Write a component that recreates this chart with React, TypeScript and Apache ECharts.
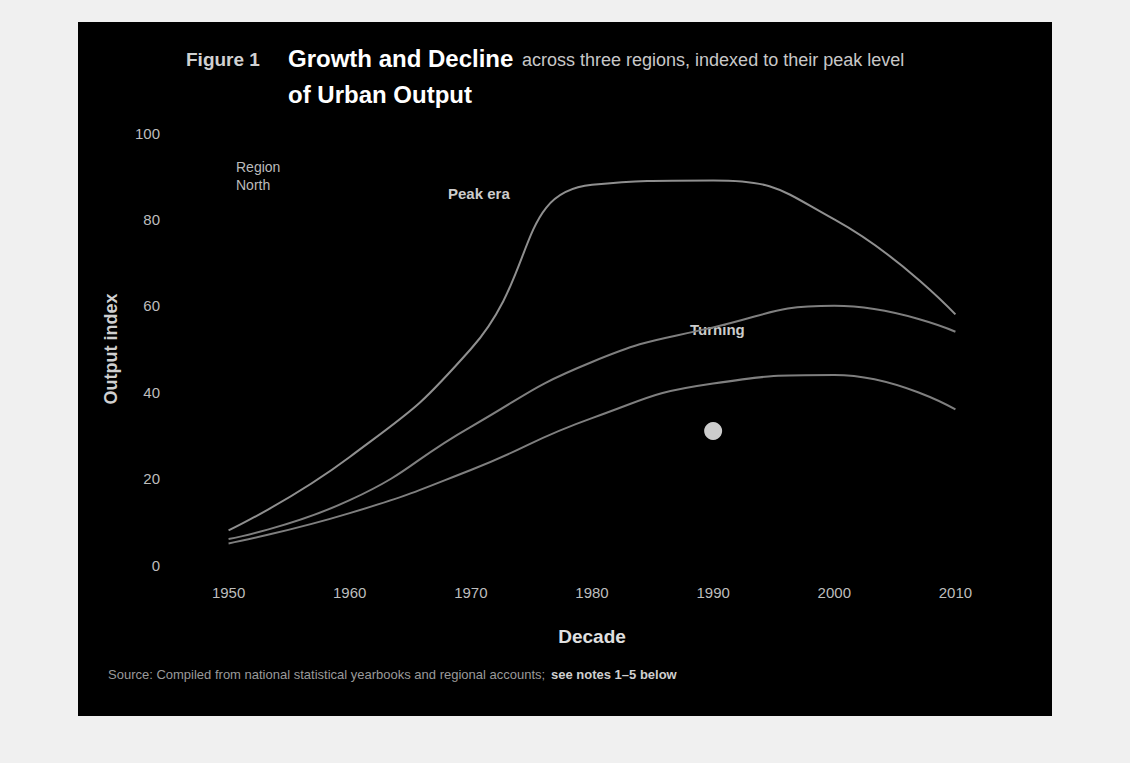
import React, { useEffect, useRef } from "react";
import * as echarts from "echarts";

const categories = ["1950", "1960", "1970", "1980", "1990", "2000", "2010"];
const seriesA = [8, 25, 50, 88, 89, 80, 58];
const seriesB = [6, 15, 32, 47, 55, 60, 54];
const seriesC = [5, 12, 22, 34, 42, 44, 36];
const highlight = [[4, 31]];
const yTicks = { min: 0, max: 100, interval: 20 };

export default function App() {
  const ref = useRef<HTMLDivElement>(null);
  useEffect(() => {
    if (!ref.current) return;
    const chart = echarts.init(ref.current, null, { renderer: "svg" });
    const font = "Liberation Sans, Arial, sans-serif";
    const lineStyle = { width: 2 };
    chart.setOption({
      animation: false,
      backgroundColor: "transparent",
      textStyle: { fontFamily: font },
      graphic: [
        { type: "rect", shape: { x: 78, y: 22, width: 974, height: 694 }, style: { fill: "#000" }, z: -10 },
        { type: "text", left: 186, top: 50, style: { text: "Figure 1", fill: "#d0d0d0", font: "bold 19px " + font } },
        { type: "text", left: 288, top: 46, style: { text: "Growth and Decline", fill: "#ffffff", font: "bold 24px " + font } },
        { type: "text", left: 288, top: 82, style: { text: "of Urban Output", fill: "#ffffff", font: "bold 24px " + font } },
        { type: "text", left: 522, top: 51, style: { text: "across three regions, indexed to their peak level", fill: "#c8c8c8", font: "18px " + font } },
        { type: "text", left: 236, top: 158, style: { text: "Region\nNorth", fill: "#bbbbbb", font: "14px " + font, lineHeight: 18 } },
        { type: "text", left: 448, top: 186, style: { text: "Peak era", fill: "#cccccc", font: "bold 15px " + font } },
        { type: "text", left: 690, top: 322, style: { text: "Turning", fill: "#cccccc", font: "bold 15px " + font } },
        { type: "text", left: 108, top: 668, style: { text: "Source: Compiled from national statistical yearbooks and regional accounts;", fill: "#9a9a9a", font: "13px " + font } },
        { type: "text", left: 551, top: 668, style: { text: "see notes 1–5 below", fill: "#cfcfcf", font: "bold 13px " + font } }
      ],
      grid: { left: 168, right: 114, top: 133, bottom: 198 },
      xAxis: {
        type: "category",
        data: categories,
        boundaryGap: true,
        name: "Decade",
        nameLocation: "middle",
        nameGap: 62,
        nameTextStyle: { color: "#e0e0e0", fontSize: 19, fontWeight: "bold" },
        axisLine: { show: false },
        axisTick: { show: false },
        axisLabel: { color: "#bdbdbd", fontSize: 15, margin: 20 }
      },
      yAxis: {
        type: "value",
        min: yTicks.min,
        max: yTicks.max,
        interval: yTicks.interval,
        name: "Output index",
        nameLocation: "middle",
        nameGap: 48,
        nameTextStyle: { color: "#d0d0d0", fontSize: 18, fontWeight: "bold" },
        axisLine: { show: false },
        axisTick: { show: false },
        splitLine: { show: false },
        axisLabel: { color: "#bdbdbd", fontSize: 15, margin: 8 }
      },
      series: [
        { name: "North", type: "line", data: seriesA, smooth: true, symbol: "none", lineStyle: { ...lineStyle, color: "#8f8f8f" } },
        { name: "Central", type: "line", data: seriesB, smooth: true, symbol: "none", lineStyle: { ...lineStyle, color: "#7f7f7f" } },
        { name: "South", type: "line", data: seriesC, smooth: true, symbol: "none", lineStyle: { ...lineStyle, color: "#7f7f7f" } },
        { name: "Marker", type: "scatter", data: highlight, symbolSize: 18, itemStyle: { color: "#ffffff" } }
      ]
    });
    return () => chart.dispose();
  }, []);
  return (
    <div style={{ position: "fixed", left: 0, top: 0, width: 1130, height: 763, background: "#f0f0f0" }}>
      <div ref={ref} style={{ width: 1130, height: 763 }} />
    </div>
  );
}
